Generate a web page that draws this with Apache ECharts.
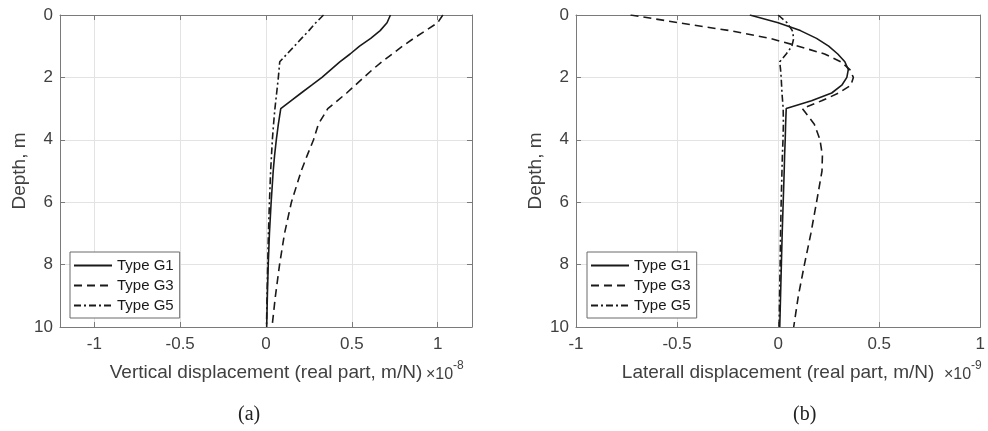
<!DOCTYPE html>
<html><head><meta charset="utf-8">
<script src="https://cdn.jsdelivr.net/npm/echarts@6/dist/echarts.min.js"></script>
<style>html,body{margin:0;padding:0;background:#fff}#c{width:988px;height:431px}</style>
</head><body><div id="c"></div>
<script>
// Depth (m)
const depths = [0,0.25,0.5,0.75,1,1.25,1.5,1.75,2,2.25,2.5,2.75,3,3.5,4,4.5,5,6,7,8,9,10];
// (a) Vertical displacement, x1e-8 m/N
const vertG1 = [0.725,0.705,0.665,0.61,0.545,0.49,0.43,0.378,0.326,0.266,0.205,0.145,0.086,0.072,0.06,0.05,0.042,0.03,0.02,0.013,0.008,0.004];
const vertG3 = [1.03,1.0,0.93,0.86,0.795,0.735,0.675,0.62,0.57,0.52,0.47,0.415,0.36,0.305,0.277,0.24,0.205,0.148,0.108,0.079,0.055,0.035];
const vertG5 = [0.335,0.29,0.25,0.207,0.165,0.122,0.08,0.076,0.072,0.067,0.062,0.057,0.052,0.044,0.037,0.032,0.027,0.02,0.014,0.01,0.006,0.003];
// (b) Lateral displacement, x1e-9 m/N
const latG1 = [-0.14,0.0,0.11,0.19,0.25,0.295,0.33,0.347,0.34,0.315,0.265,0.165,0.04,0.037,0.035,0.032,0.03,0.025,0.02,0.016,0.012,0.008];
const latG3 = [-0.73,-0.49,-0.24,-0.04,0.1,0.23,0.31,0.355,0.372,0.36,0.3,0.215,0.12,0.179,0.207,0.219,0.217,0.19,0.162,0.13,0.1,0.077];
const latG5 = [0.0,0.045,0.07,0.077,0.068,0.04,0.008,0.012,0.015,0.017,0.019,0.022,0.025,0.026,0.024,0.021,0.019,0.015,0.012,0.01,0.007,0.005];
const seriesNames = ['Type G1','Type G3','Type G5'];

const FONT = 'Liberation Sans, Arial, sans-serif';
const AX = '#7a7a7a';
const LBL = '#404040';
const LINE = '#1a1a1a';
const dashTypes = ['solid',[8,5],[7,3,2,3]];

function pairs(vals){ return vals.map((v,i)=>[v, depths[i]]); }

function xAxes(grid, min, max, name){
  return [
    {gridIndex:grid, type:'value', min:min, max:max, position:'bottom',
     axisLine:{show:true, onZero:false, lineStyle:{color:AX, width:1}},
     axisTick:{show:true, inside:true, length:5, lineStyle:{color:AX}},
     axisLabel:{fontSize:17, color:LBL, fontFamily:FONT, margin:9, showMinLabel: min===-1, showMaxLabel: max===1},
     splitLine:{show:true, lineStyle:{color:'#e3e3e3', width:1}},
     name:name, nameLocation:'middle', nameGap:36,
     nameTextStyle:{fontSize:19, color:LBL, fontFamily:FONT}},
    {gridIndex:grid, type:'value', min:min, max:max, position:'top',
     axisLine:{show:true, onZero:false, lineStyle:{color:AX, width:1}},
     axisTick:{show:true, inside:true, length:5, lineStyle:{color:AX}},
     axisLabel:{show:false}, splitLine:{show:false}}
  ];
}
function yAxes(grid){
  return [
    {gridIndex:grid, type:'value', min:0, max:10, interval:2, inverse:true, position:'left',
     axisLine:{show:true, onZero:false, lineStyle:{color:AX, width:1}},
     axisTick:{show:true, inside:true, length:5, lineStyle:{color:AX}},
     axisLabel:{fontSize:17, color:LBL, fontFamily:FONT, margin:7},
     splitLine:{show:true, lineStyle:{color:'#e3e3e3', width:1}},
     name:'Depth, m', nameLocation:'middle', nameGap:31, nameRotate:90,
     nameTextStyle:{fontSize:19, color:LBL, fontFamily:FONT}},
    {gridIndex:grid, type:'value', min:0, max:10, interval:2, inverse:true, position:'right',
     axisLine:{show:true, onZero:false, lineStyle:{color:AX, width:1}},
     axisTick:{show:true, inside:true, length:5, lineStyle:{color:AX}},
     axisLabel:{show:false}, splitLine:{show:false}}
  ];
}
function mkSeries(arrs, xi, yi){
  return arrs.map((a,k)=>({
    name:seriesNames[k], type:'line', xAxisIndex:xi, yAxisIndex:yi,
    data:pairs(a), symbol:'none', showSymbol:false, smooth:false,
    lineStyle:{color:LINE, width:1.6, type:dashTypes[k]}, itemStyle:{color:LINE},
    animation:false, z:5
  }));
}
function legend(left){
  return {data:seriesNames, orient:'vertical', left:left, top:252,
    itemWidth:38, itemHeight:14, itemGap:5, padding:[6,6,5,3],
    backgroundColor:'#fff', borderColor:'#6a6a6a', borderWidth:1,
    itemStyle:{color:'transparent', borderWidth:0, opacity:0},
    textStyle:{fontSize:15, color:'#1a1a1a', fontFamily:FONT}, selectedMode:false};
}

const chart = echarts.init(document.getElementById('c'), null, {renderer:'canvas'});
chart.setOption({
  animation:false,
  backgroundColor:'#fff',
  grid:[
    {left:60, top:15, width:412, height:312, containLabel:false},
    {left:576, top:15, width:413, height:312, containLabel:false}
  ],
  xAxis:[...xAxes(0,-1.2,1.2,'Vertical displacement (real part, m/N)'), ...xAxes(1,-1,1,'Laterall displacement (real part, m/N)')],
  yAxis:[...yAxes(0), ...yAxes(1)],
  legend:[legend(70), legend(587)],
  series:[...mkSeries([vertG1,vertG3,vertG5],0,0), ...mkSeries([latG1,latG3,latG5],2,2)],
  graphic:[
    {type:'text', left:426, top:367, style:{text:'×10', fontSize:16, fill:LBL, fontFamily:FONT}},
    {type:'text', left:453, top:360, style:{text:'-8', fontSize:12, fill:LBL, fontFamily:FONT}},
    {type:'text', left:944, top:367, style:{text:'×10', fontSize:16, fill:LBL, fontFamily:FONT}},
    {type:'text', left:971, top:360, style:{text:'-9', fontSize:12, fill:LBL, fontFamily:FONT}},
    {type:'text', left:238, top:405, style:{text:'(a)', fontSize:20, fill:'#222', fontFamily:'Liberation Serif, DejaVu Serif, serif'}},
    {type:'text', left:793, top:405, style:{text:'(b)', fontSize:20, fill:'#222', fontFamily:'Liberation Serif, DejaVu Serif, serif'}}
  ]
});
</script></body></html>
